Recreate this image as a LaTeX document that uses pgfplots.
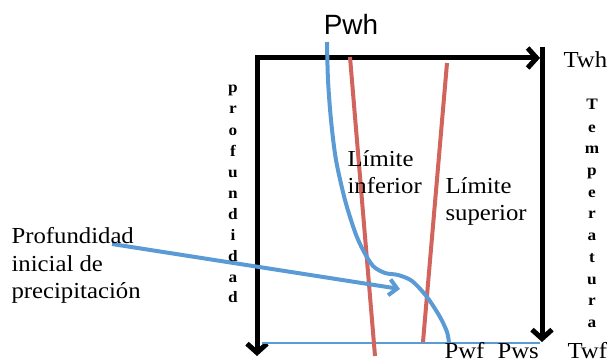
\documentclass[border=0pt]{standalone}
\usepackage{pgfplots}
\pgfplotsset{compat=1.18}
\usepackage{fontspec}
\setmainfont{Liberation Serif}[FakeStretch=1.08]
\newfontfamily\sans{Liberation Sans}
\usetikzlibrary{arrows.meta}
\definecolor{cblue}{RGB}{91,155,213}
\definecolor{cred}{RGB}{209,100,92}
\begin{document}
\begin{tikzpicture}
\begin{axis}[
    width=613bp, height=364bp, scale only axis,
    xmin=0, xmax=613, ymin=0, ymax=364,
    y dir=reverse,
    hide axis, clip=false,
    every node/.append style={inner sep=0pt},
]
% marco negro con flechas
\addplot[black, line width=5bp, -{Straight Barb[length=9bp,width=20bp]}] coordinates {(255,58) (540,58)};
\addplot[black, line width=5bp, -{Straight Barb[length=9bp,width=20bp]}] coordinates {(257,56) (257,356)};
\addplot[black, line width=5bp, -{Straight Barb[length=9bp,width=20bp]}] coordinates {(542,47) (542,342)};
% fondo del pozo
\addplot[cblue, line width=1.5bp] coordinates {(262,343) (540,343)};
% limites
\addplot[cred, line width=4bp] coordinates {(350,57) (375,356)};
\addplot[cred, line width=4bp] coordinates {(447,63) (423,342)};
% perfil de presion
\addplot[cblue, line width=4bp, smooth, tension=0.5] coordinates {
(327,42) (328,80) (331,120) (336,160) (345,200) (355,232) (363,250)
(373,266) (385,273) (398,275) (412,281) (427,297) (440,317) (447,332) (449,343)};
% flecha de profundidad inicial
\addplot[cblue, line width=4bp, -{Straight Barb[length=8bp,width=16bp]}] coordinates {(112,244) (400,289)};
% textos
\node[anchor=base, font=\sans\fontsize{28}{30}\selectfont] at (axis cs:351,35) {Pwh};
\node[anchor=base west, font=\fontsize{23}{25}\selectfont] at (axis cs:560,68) {Twh};
\node[anchor=base west, font=\fontsize{23}{25}\selectfont] at (axis cs:344,166) {Límite};
\node[anchor=base west, font=\fontsize{23}{25}\selectfont] at (axis cs:344,193) {inferior};
\node[anchor=base west, font=\fontsize{23}{25}\selectfont] at (axis cs:442,193) {Límite};
\node[anchor=base west, font=\fontsize{23}{25}\selectfont] at (axis cs:442,220) {superior};
\node[anchor=base west, font=\fontsize{23}{25}\selectfont] at (axis cs:8,243) {Profundidad};
\node[anchor=base west, font=\fontsize{23}{25}\selectfont] at (axis cs:8,271) {inicial de};
\node[anchor=base west, font=\fontsize{23}{25}\selectfont] at (axis cs:8,298) {precipitación};
\node[anchor=base west, font=\fontsize{23}{25}\selectfont] at (axis cs:441,358) {Pwf};
\node[anchor=base west, font=\fontsize{23}{25}\selectfont] at (axis cs:494,358) {Pws};
\node[anchor=base west, font=\fontsize{23}{25}\selectfont] at (axis cs:564,358) {Twf};
% profundidad (vertical)
\node[anchor=base, font=\bfseries\fontsize{16}{18}\selectfont] at (axis cs:233,93) {p};
\node[anchor=base, font=\bfseries\fontsize{16}{18}\selectfont] at (axis cs:233,114) {r};
\node[anchor=base, font=\bfseries\fontsize{16}{18}\selectfont] at (axis cs:233,135) {o};
\node[anchor=base, font=\bfseries\fontsize{16}{18}\selectfont] at (axis cs:233,156) {f};
\node[anchor=base, font=\bfseries\fontsize{16}{18}\selectfont] at (axis cs:233,177) {u};
\node[anchor=base, font=\bfseries\fontsize{16}{18}\selectfont] at (axis cs:233,198) {n};
\node[anchor=base, font=\bfseries\fontsize{16}{18}\selectfont] at (axis cs:233,219) {d};
\node[anchor=base, font=\bfseries\fontsize{16}{18}\selectfont] at (axis cs:233,240) {i};
\node[anchor=base, font=\bfseries\fontsize{16}{18}\selectfont] at (axis cs:233,261) {d};
\node[anchor=base, font=\bfseries\fontsize{16}{18}\selectfont] at (axis cs:233,282) {a};
\node[anchor=base, font=\bfseries\fontsize{16}{18}\selectfont] at (axis cs:233,302) {d};
% temperatura (vertical)
\node[anchor=base, font=\bfseries\fontsize{16}{18}\selectfont] at (axis cs:592,110) {T};
\node[anchor=base, font=\bfseries\fontsize{16}{18}\selectfont] at (axis cs:592,132) {e};
\node[anchor=base, font=\bfseries\fontsize{16}{18}\selectfont] at (axis cs:592,153) {m};
\node[anchor=base, font=\bfseries\fontsize{16}{18}\selectfont] at (axis cs:592,175) {p};
\node[anchor=base, font=\bfseries\fontsize{16}{18}\selectfont] at (axis cs:592,197) {e};
\node[anchor=base, font=\bfseries\fontsize{16}{18}\selectfont] at (axis cs:592,218) {r};
\node[anchor=base, font=\bfseries\fontsize{16}{18}\selectfont] at (axis cs:592,240) {a};
\node[anchor=base, font=\bfseries\fontsize{16}{18}\selectfont] at (axis cs:592,262) {t};
\node[anchor=base, font=\bfseries\fontsize{16}{18}\selectfont] at (axis cs:592,284) {u};
\node[anchor=base, font=\bfseries\fontsize{16}{18}\selectfont] at (axis cs:592,305) {r};
\node[anchor=base, font=\bfseries\fontsize{16}{18}\selectfont] at (axis cs:592,327) {a};
\end{axis}
\pgfresetboundingbox
\useasboundingbox (0,0) rectangle (613bp,364bp);
\end{tikzpicture}
\end{document}
